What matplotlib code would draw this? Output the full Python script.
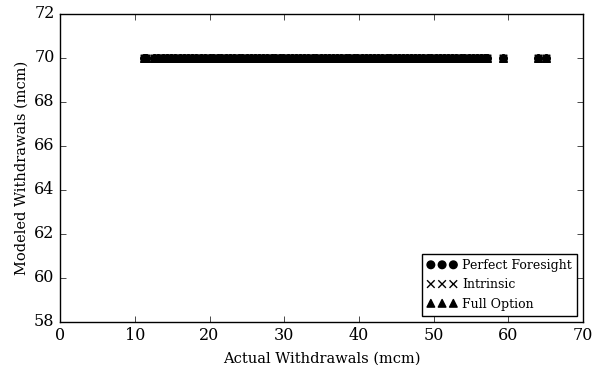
import matplotlib
matplotlib.use("Agg")
import matplotlib.pyplot as plt

# Actual withdrawals (mcm) read along the row of points
actual = [11.2, 11.5, 12.6, 13.1, 13.8, 14.3, 14.9, 15.4, 16.0, 16.6, 17.1,
          17.7, 18.2, 18.9, 19.4, 20.0, 20.5, 21.1, 21.6, 22.2, 22.8, 23.3,
          23.9, 24.4, 25.0, 25.5, 26.1, 26.6, 27.2, 27.7, 28.3, 28.8, 29.4,
          29.9, 30.5, 31.0, 31.6, 32.1, 32.7, 33.2, 33.8, 34.3, 34.9, 35.4,
          36.0, 36.5, 37.1, 37.6, 38.2, 38.7, 39.3, 39.8, 40.4, 40.9, 41.5,
          42.0, 42.6, 43.1, 43.7, 44.2, 44.8, 45.3, 45.9, 46.4, 47.0, 47.5,
          48.1, 48.6, 49.2, 49.7, 50.3, 50.8, 51.4, 51.9, 52.5, 53.0, 53.6,
          54.1, 54.7, 55.2, 55.8, 56.3, 56.9, 57.2, 59.3, 64.0, 65.0]
# Modeled withdrawals (mcm): every point sits at 70
modeled_pf = [70.0] * len(actual)
modeled_intr = [70.0] * len(actual)
modeled_full = [70.0] * len(actual)

plt.style.use("classic")
plt.rcParams["font.family"] = ["DejaVu Serif"]

fig = plt.figure(figsize=(5.95, 3.65), dpi=100)
ax = fig.add_axes([0.101, 0.118, 0.879, 0.844])

ax.scatter(actual, modeled_pf, marker="o", color="k", s=30,
           label="Perfect Foresight")
ax.scatter(actual, modeled_intr, marker="x", color="k", s=30,
           label="Intrinsic")
ax.scatter(actual, modeled_full, marker="^", color="k", s=30,
           label="Full Option")

ax.set_xlim(0, 70)
ax.set_ylim(58, 72)
ax.set_xlabel("Actual Withdrawals (mcm)", fontsize=10.5, labelpad=5)
ax.set_ylabel("Modeled Withdrawals (mcm)", fontsize=10.5, labelpad=4)
ax.tick_params(labelsize=11.5)
ax.legend(loc="lower right", scatterpoints=3, scatteryoffsets=[0.5],
          fontsize=9, handlelength=2.4, handletextpad=0.4,
          borderaxespad=0.5)

fig.savefig("out.png", dpi=100)
